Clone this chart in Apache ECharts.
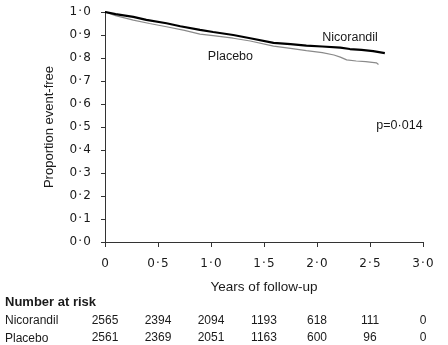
<!DOCTYPE html>
<html><head><meta charset="utf-8">
<script src="https://cdn.jsdelivr.net/npm/echarts@6/dist/echarts.min.js"></script>
<style>html,body{margin:0;padding:0;background:#fff}#c{width:448px;height:345px}</style>
</head><body><div id="c"></div>
<script>
// Data
const xTicks = [0, 0.5, 1.0, 1.5, 2.0, 2.5, 3.0];
const yTicks = [0, 0.1, 0.2, 0.3, 0.4, 0.5, 0.6, 0.7, 0.8, 0.9, 1.0];
const nicorandil = [[0,1.0],[0.1,0.991],[0.267,0.979],[0.39,0.966],[0.58,0.951],[0.71,0.938],[0.896,0.922],[1.02,0.913],[1.21,0.9],[1.37,0.886],[1.59,0.866],[1.75,0.86],[1.9,0.854],[2.05,0.85],[2.22,0.845],[2.31,0.839],[2.42,0.835],[2.53,0.83],[2.64,0.821]];
const placebo = [[0,1.0],[0.1,0.984],[0.267,0.965],[0.42,0.95],[0.58,0.936],[0.75,0.92],[0.896,0.904],[1.02,0.897],[1.21,0.886],[1.37,0.874],[1.59,0.852],[1.75,0.842],[1.9,0.832],[2.05,0.823],[2.16,0.813],[2.22,0.804],[2.28,0.792],[2.37,0.787],[2.46,0.784],[2.56,0.779],[2.58,0.772]];
const riskNicorandil = [2565, 2394, 2094, 1193, 618, 111, 0];
const riskPlacebo = [2561, 2369, 2051, 1163, 600, 96, 0];
const pValue = 'p=0·014';

const FONT = 'Liberation Sans';
const TICKFONT = 'DejaVu Sans';
const TXT = '#1a1a1a';
const HS = '\u200A';
const dot = v => v.toFixed(1).replace('.', HS + '·' + HS);
const idx = v => Math.round(v / 0.5);

const chart = echarts.init(document.getElementById('c'), null, {renderer: 'canvas'});
const riskAxis = (arr, off) => ({
  type: 'value', gridIndex: 0, position: 'bottom', min: 0, max: 3, interval: 0.5, offset: off,
  axisLine: {show: false}, axisTick: {show: false}, splitLine: {show: false},
  axisLabel: {margin: 0, fontFamily: FONT, fontSize: 12, color: TXT,
    formatter: v => String(arr[idx(v)])}
});
chart.setOption({
  animation: false,
  grid: {left: 105, right: 25, top: 12, bottom: 103, containLabel: false},
  xAxis: [{
    type: 'value', min: 0, max: 3, interval: 0.5, offset: 8,
    axisLine: {show: true, lineStyle: {color: '#333', width: 1}},
    axisTick: {show: true, length: 5, lineStyle: {color: '#333'}},
    splitLine: {show: false},
    axisLabel: {margin: 8, fontFamily: TICKFONT, fontSize: 12, color: TXT,
      formatter: v => v === 0 ? '0' : dot(v)},
    name: 'Years of follow-up', nameLocation: 'middle', nameGap: 30,
    nameTextStyle: {fontFamily: FONT, fontSize: 13.5, color: TXT}
  }, riskAxis(riskNicorandil, 73), riskAxis(riskPlacebo, 90)],
  yAxis: {
    type: 'value', min: 0, max: 1, interval: 0.1, offset: 7,
    axisLine: {show: true, lineStyle: {color: '#333', width: 1}},
    axisTick: {show: true, length: 4, lineStyle: {color: '#333'}},
    splitLine: {show: false},
    axisLabel: {margin: 7, fontFamily: TICKFONT, fontSize: 12, color: TXT, formatter: v => dot(v)},
    name: 'Proportion event-free', nameLocation: 'middle', nameGap: 42, nameRotate: 90,
    nameTextStyle: {fontFamily: FONT, fontSize: 13, color: TXT}
  },
  series: [
    {name: 'Placebo', type: 'line', data: placebo, showSymbol: false, symbol: 'none',
      lineStyle: {color: '#8a8a8a', width: 1.2}},
    {name: 'Nicorandil', type: 'line', data: nicorandil, showSymbol: false, symbol: 'none',
      lineStyle: {color: '#000', width: 2.2}}
  ]
});
const P = (x, y) => chart.convertToPixel({gridIndex: 0}, [x, y]);
const t = (pos, text, extra) => Object.assign({type: 'text', x: pos[0], y: pos[1],
  style: Object.assign({text, fontFamily: FONT, fontSize: 12.5, fill: TXT, verticalAlign: 'middle'}, extra || {})});
chart.setOption({graphic: [
  t(P(2.05, 0.887), 'Nicorandil'),
  t(P(0.97, 0.805), 'Placebo'),
  t(P(2.56, 0.505), pValue),
  t([5, 302], 'Number at risk', {fontWeight: 'bold', fontSize: 13}),
  t([5, 321], 'Nicorandil', {fontSize: 12}),
  t([5, 339], 'Placebo', {fontSize: 12})
]});
</script></body></html>
